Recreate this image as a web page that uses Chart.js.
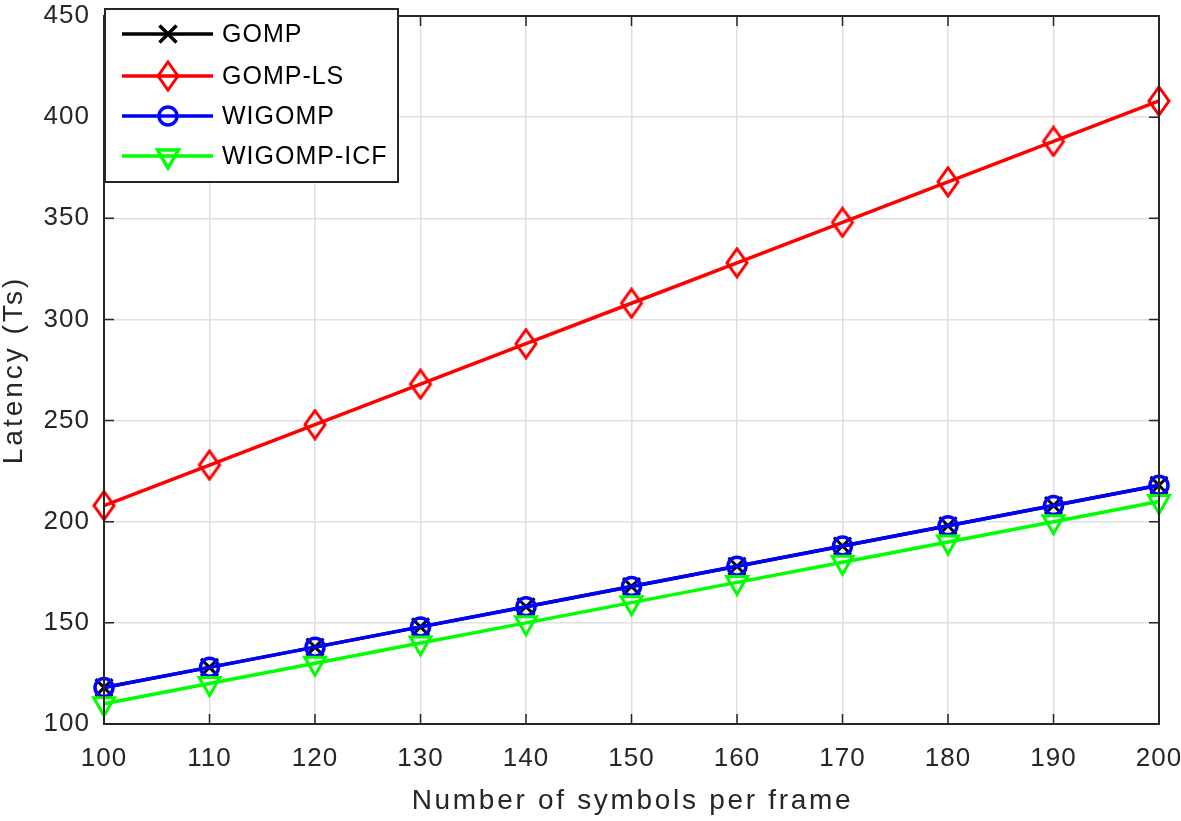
<!DOCTYPE html>
<html>
<head>
<meta charset="utf-8">
<script src="https://cdn.jsdelivr.net/npm/chart.js@4"></script>
<style>
  html, body { margin: 0; padding: 0; background: #fff; }
  #wrap { width: 1181px; height: 821px; }
</style>
</head>
<body>
<div id="wrap"><canvas id="myChart" width="1181" height="821"></canvas></div>
<script>
// data
let symbols = [100, 110, 120, 130, 140, 150, 160, 170, 180, 190, 200];
let gompArr = [118, 128, 138, 148, 158, 168, 178, 188, 198, 208, 218];
let gompLsArr = [208, 228, 248, 268, 288, 308, 328, 348, 368, 388, 408];
let wigompArr = [118, 128, 138, 148, 158, 168, 178, 188, 198, 208, 218];
let icfArr = [110, 120, 130, 140, 150, 160, 170, 180, 190, 200, 210];
let xTicks = [100, 110, 120, 130, 140, 150, 160, 170, 180, 190, 200];
let yTicks = [100, 150, 200, 250, 300, 350, 400, 450];

const FONT = "'Liberation Sans', Arial, Helvetica, sans-serif";

function toPoints(arr) {
  let out = [];
  for (let i = 0; i < symbols.length; i++) {
    out.push({ x: symbols[i], y: arr[i] });
  }
  return out;
}

// tall diamond like matlab's 'd' marker
function diamondImg(color) {
  let c = document.createElement('canvas');
  c.width = 26; c.height = 32;
  let g = c.getContext('2d');
  g.strokeStyle = color;
  g.lineWidth = 3;
  g.beginPath();
  g.moveTo(13, 2); g.lineTo(23, 16); g.lineTo(13, 30); g.lineTo(3, 16);
  g.closePath();
  g.stroke();
  return c;
}
let redDiamond = diamondImg('#ff0000');

// box, inner ticks, axis titles and legend (matlab style)
const matlabBits = {
  id: 'matlabBits',
  beforeDraw(chart) {
    chart.ctx.letterSpacing = '1px';
  },
  afterDraw(chart) {
    const ctx = chart.ctx;
    const a = chart.chartArea;
    const xs = chart.scales.x, ys = chart.scales.y;
    ctx.save();
    ctx.strokeStyle = '#262626';
    ctx.lineWidth = 2;
    ctx.strokeRect(a.left, a.top, a.right - a.left, a.bottom - a.top);
    ctx.lineWidth = 1.5;
    ctx.beginPath();
    for (let v of xTicks) {
      let px = xs.getPixelForValue(v);
      ctx.moveTo(px, a.bottom); ctx.lineTo(px, a.bottom - 10);
      ctx.moveTo(px, a.top); ctx.lineTo(px, a.top + 10);
    }
    for (let v of yTicks) {
      let py = ys.getPixelForValue(v);
      ctx.moveTo(a.left, py); ctx.lineTo(a.left + 10, py);
      ctx.moveTo(a.right, py); ctx.lineTo(a.right - 10, py);
    }
    ctx.stroke();

    // axis titles
    ctx.fillStyle = '#262626';
    ctx.font = '28px ' + FONT;
    ctx.textAlign = 'center';
    ctx.textBaseline = 'middle';
    ctx.letterSpacing = '2.7px';
    ctx.fillText('Number of symbols per frame', (a.left + a.right) / 2 + 1, 801);
    ctx.save();
    ctx.translate(14, (a.top + a.bottom) / 2);
    ctx.rotate(-Math.PI / 2);
    ctx.letterSpacing = '3px';
    ctx.fillText('Latency (Ts)', 0, 0);
    ctx.restore();

    // legend
    let lx = 105, ly = 9, lw = 293, lh = 173;
    ctx.fillStyle = '#fff';
    ctx.fillRect(lx, ly, lw, lh);
    ctx.strokeStyle = '#262626';
    ctx.lineWidth = 2;
    ctx.strokeRect(lx, ly, lw, lh);
    let rows = [34, 76, 116, 156];
    chart.data.datasets.forEach(function (ds, i) {
      let y = rows[i];
      ctx.strokeStyle = ds.borderColor;
      ctx.lineWidth = 3.5;
      ctx.beginPath();
      ctx.moveTo(122, y); ctx.lineTo(213, y);
      ctx.stroke();
      let rot = ds.pointRotation || 0;
      ctx.fillStyle = 'rgba(0,0,0,0)';
      if (ds.pointStyle instanceof HTMLCanvasElement) {
        ctx.drawImage(ds.pointStyle, 168 - 13, y - 16);
      } else {
        Chart.helpers.drawPoint(ctx, { pointStyle: ds.pointStyle, rotation: rot, radius: ds.pointRadius, borderWidth: 3 }, 168, y);
      }
      ctx.fillStyle = '#000';
      ctx.font = '25px ' + FONT;
      ctx.letterSpacing = '1px';
      ctx.textBaseline = 'middle';
      ctx.textAlign = 'left';
      ctx.fillText(ds.label, 222, y + 1);
    });
    ctx.restore();
    ctx.letterSpacing = '0px';
  }
};

const data = {
  datasets: [{
    label: 'GOMP',
    data: toPoints(gompArr),
    borderColor: '#000000',
    backgroundColor: '#000000',
    pointStyle: 'crossRot',
    pointRadius: 12,
    borderWidth: 3.5,
    pointBorderWidth: 3,
    clip: false,
    order: 4
  },
  {
    label: 'GOMP-LS',
    data: toPoints(gompLsArr),
    borderColor: '#ff0000',
    backgroundColor: 'rgba(0,0,0,0)',
    pointStyle: redDiamond,
    pointRadius: 13,
    borderWidth: 3.5,
    pointBorderWidth: 3,
    clip: false,
    order: 3
  },
  {
    label: 'WIGOMP',
    data: toPoints(wigompArr),
    borderColor: '#0000ff',
    backgroundColor: 'rgba(0,0,0,0)',
    pointStyle: 'circle',
    pointRadius: 9,
    borderWidth: 3.5,
    pointBorderWidth: 3.5,
    clip: false,
    order: 2
  },
  {
    label: 'WIGOMP-ICF',
    data: toPoints(icfArr),
    borderColor: '#00ff00',
    backgroundColor: 'rgba(0,0,0,0)',
    pointStyle: 'triangle',
    pointRotation: 180,
    pointRadius: 12,
    borderWidth: 3.5,
    pointBorderWidth: 3,
    clip: false,
    order: 1
  }]
};

const config = {
  type: 'line',
  data: data,
  options: {
    responsive: false,
    animation: false,
    layout: { padding: { top: 8, right: 22, left: 0, bottom: 0 } },
    plugins: {
      legend: { display: false },
      tooltip: { enabled: false }
    },
    scales: {
      x: {
        type: 'linear',
        min: 100,
        max: 200,
        afterBuildTicks: function (scale) {
          scale.ticks = xTicks.map(function (v) { return { value: v }; });
        },
        afterFit: function (scale) {
          scale.height = 97;
          scale.paddingLeft = 0;
          scale.paddingRight = 0;
        },
        grid: { color: '#e0e0e0', lineWidth: 1.5, drawTicks: false },
        border: { display: false },
        ticks: { color: '#262626', font: { family: FONT, size: 26 }, padding: 19, maxRotation: 0 }
      },
      y: {
        min: 100,
        max: 450,
        afterBuildTicks: function (scale) {
          scale.ticks = yTicks.map(function (v) { return { value: v }; });
        },
        afterFit: function (scale) {
          scale.width = 104;
          scale.paddingTop = 0;
          scale.paddingBottom = 0;
        },
        grid: { color: '#e0e0e0', lineWidth: 1.5, drawTicks: false },
        border: { display: false },
        ticks: { color: '#262626', font: { family: FONT, size: 26 }, padding: 14 }
      }
    }
  },
  plugins: [matlabBits]
};

var myChart = new Chart(document.getElementById('myChart'), config);
</script>
</body>
</html>
